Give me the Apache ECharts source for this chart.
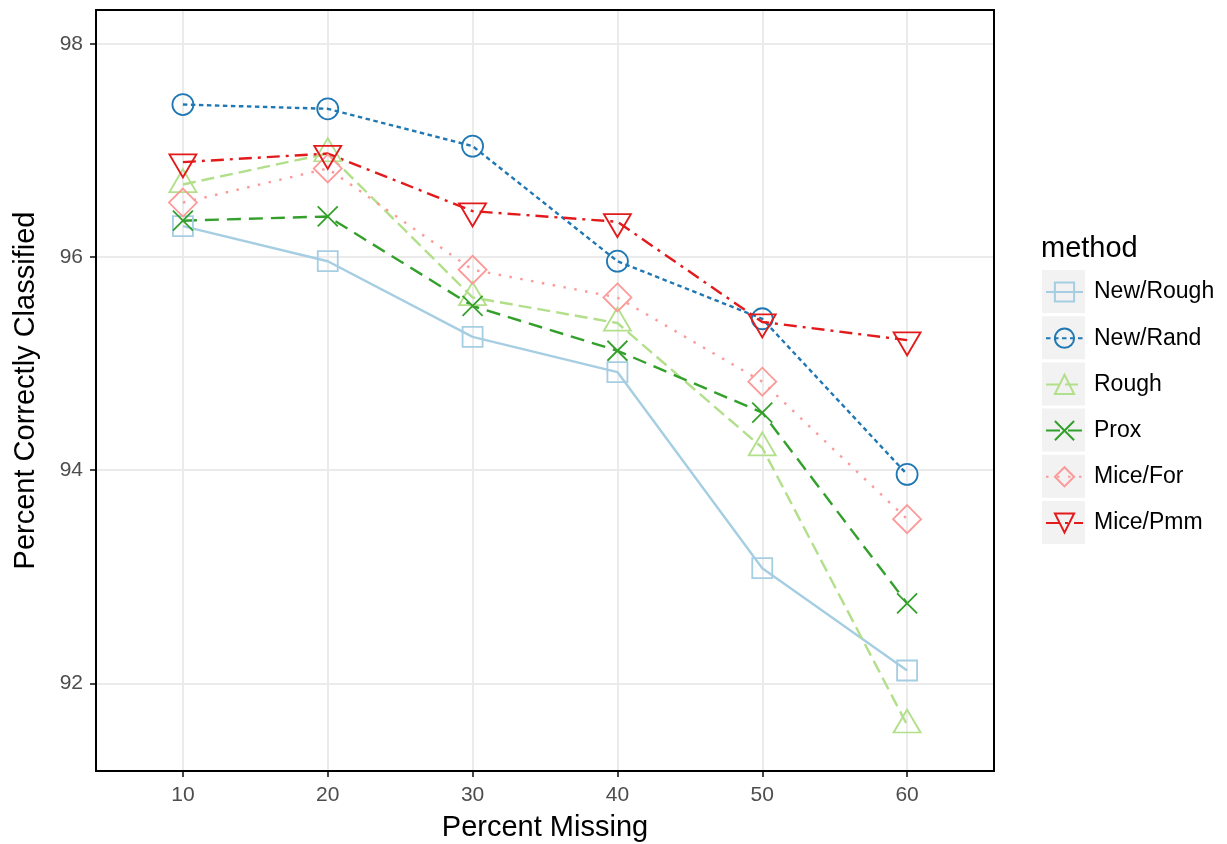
<!DOCTYPE html>
<html>
<head>
<meta charset="utf-8">
<script src="https://cdn.jsdelivr.net/npm/echarts@6/dist/echarts.min.js"></script>
<style>html,body{margin:0;padding:0;background:#fff}#c{width:1227px;height:844px}</style>
</head>
<body>
<div id="c"></div>
<script>
var percentMissing = [10, 20, 30, 40, 50, 60];
var xTicks = [10, 20, 30, 40, 50, 60];
var yTicks = [92, 94, 96, 98];
var methods = ['New/Rough', 'New/Rand', 'Rough', 'Prox', 'Mice/For', 'Mice/Pmm'];
var newRough = [96.29, 95.96, 95.25, 94.92, 93.08, 92.12];
var newRand  = [97.43, 97.39, 97.04, 95.96, 95.42, 93.96];
var rough    = [96.68, 96.97, 95.62, 95.38, 94.21, 91.61];
var prox     = [96.34, 96.38, 95.54, 95.12, 94.54, 92.75];
var miceFor  = [96.51, 96.83, 95.88, 95.62, 94.83, 93.54];
var micePmm  = [96.89, 96.97, 96.43, 96.33, 95.39, 95.22];

var FONT = '"Liberation Sans", Arial, Helvetica, sans-serif';
var colors = ['#A6CEE3', '#1F78B4', '#B2DF8A', '#33A02C', '#FB9A99', '#E31A1C'];
var dashes = ['solid', [4.5, 3.5], [13, 6], [14, 8], [2.5, 8.5], [13, 6, 3, 6]];
var symbols = ['rect', 'circle', 'triangle', 'path://M0,0L10,10M0,10L10,0', 'diamond', 'triangle'];
var sizes = [[20, 20], [21, 21], [27, 23], [20, 20], [28, 28], [27, 23]];
var rotates = [0, 0, 0, 0, 0, 180];
var offsets = [[0, 0], [0, 0], [0, -3.83], [0, 0], [0, 0], [0, 3.83]];
var values = [newRough, newRand, rough, prox, miceFor, micePmm];

function pairs(v) { return percentMissing.map(function (x, i) { return [x, v[i]]; }); }

var series = methods.map(function (m, i) {
  return {
    name: m, type: 'line', data: pairs(values[i]),
    symbol: symbols[i], symbolSize: sizes[i], symbolRotate: rotates[i],
    symbolOffset: offsets[i], symbolKeepAspect: true,
    lineStyle: { color: colors[i], width: 2.4, type: dashes[i], cap: 'butt' },
    itemStyle: { color: 'transparent', borderColor: colors[i], borderWidth: 1.8 },
    emphasis: { disabled: true }, silent: true
  };
});

var legendStep = 46.2;
var keyRects = methods.map(function (m, i) {
  return { type: 'rect', left: 1042, top: 270 + i * legendStep, z: -1,
    shape: { width: 43, height: 43 }, style: { fill: '#F2F2F2' } };
});

var chart = echarts.init(document.getElementById('c'), null, { renderer: 'canvas' });
chart.setOption({
  animation: false,
  backgroundColor: '#fff',
  textStyle: { fontFamily: FONT },
  title: { text: 'method', left: 1041, top: 234, padding: 0,
    textStyle: { fontFamily: FONT, fontSize: 29, fontWeight: 'normal', color: '#000' } },
  grid: { left: 96, top: 10, right: 233, bottom: 73, containLabel: false, outerBoundsMode: 'none',
    show: true, borderColor: '#000', borderWidth: 2, backgroundColor: 'transparent', z: 3 },
  legend: {
    orient: 'vertical', left: 1045, top: 279, itemWidth: 37, itemHeight: 24, itemGap: 20.2,
    selectedMode: false, data: methods, padding: 0,
    textStyle: { fontFamily: FONT, fontSize: 23, lineHeight: 26, color: '#000', padding: [0, 0, 0, 6] }
  },
  graphic: keyRects,
  xAxis: {
    type: 'value', min: 4, max: 66,
    name: 'Percent Missing', nameLocation: 'middle', nameGap: 42,
    nameTextStyle: { fontFamily: FONT, fontSize: 29, color: '#000' },
    axisLine: { show: false },
    axisTick: { show: true, length: 6, lineStyle: { color: '#333', width: 1.8 }, customValues: xTicks },
    axisLabel: { customValues: xTicks, margin: 14, fontFamily: FONT, fontSize: 21, color: '#4D4D4D' },
    splitLine: { show: true, lineStyle: { color: '#EBEBEB', width: 2 } }
  },
  yAxis: {
    type: 'value', min: 91.177, max: 98.317,
    name: 'Percent Correctly Classified', nameLocation: 'middle', nameGap: 56, nameRotate: 90,
    nameTextStyle: { fontFamily: FONT, fontSize: 29, color: '#000' },
    axisLine: { show: false },
    axisTick: { show: true, length: 6, lineStyle: { color: '#333', width: 1.8 }, customValues: yTicks },
    axisLabel: { customValues: yTicks, margin: 13, fontFamily: FONT, fontSize: 21, color: '#4D4D4D' },
    splitLine: { show: true, lineStyle: { color: '#EBEBEB', width: 2 } }
  },
  series: series
});
</script>
</body>
</html>
